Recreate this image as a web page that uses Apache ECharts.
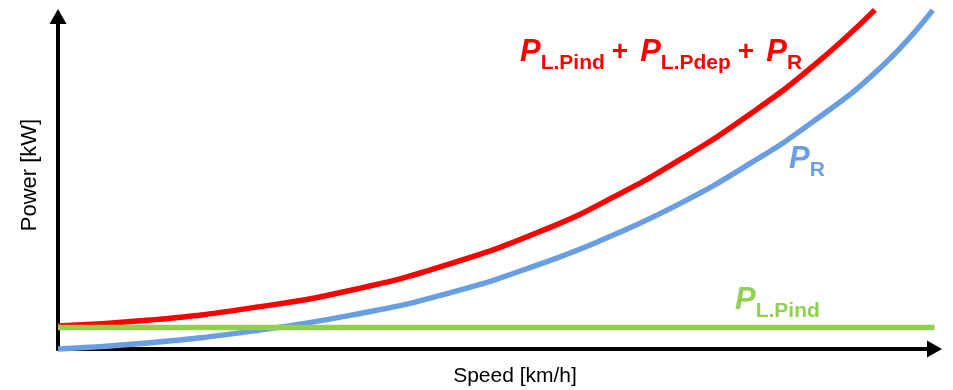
<!DOCTYPE html>
<html>
<head>
<meta charset="utf-8">
<script src="https://cdn.jsdelivr.net/npm/echarts@6/dist/echarts.min.js"></script>
<style>
  html, body { margin: 0; padding: 0; background: #fff; }
  #chart { width: 953px; height: 390px; }
</style>
</head>
<body>
<div id="chart"></div>
<script>
// speed (0-100 of the axis length) vs power (0-100 of the axis height)
const speed = [0, 10.5, 21.9, 33.3, 44.7, 55.8, 63.3, 71.0, 78.6, 86.1, 93.2];
const totalPower = [6.9, 8.7, 12.3, 17.6, 25.6, 36.2, 45.6, 57.0, 70.0, 85.0, 102.0];

const speedR = [0, 10.5, 21.9, 33.3, 44.7, 55.8, 63.3, 71.0, 78.6, 86.1, 93.8, 99.8];
const powerR = [0, 1.9, 5.3, 10.1, 16.9, 26.3, 34.2, 43.8, 55.2, 68.3, 84.5, 101.9];

const speedPind = [0, 100];
const powerPind = [6.5, 6.5];

const colors = {
    total: "#ff0000",
    r: "#6a9ee3",
    pind: "#92d050",
};

const zip = (xs, ys) => xs.map((x, i) => [x, ys[i]]);

const font = "Liberation Sans, Arial, sans-serif";

// rich text styles for P with subscript
function richFor(color) {
    return {
        p: {
            fontSize: 31,
            fontStyle: "italic",
            fontWeight: "bold",
            fontFamily: font,
            fill: color,
            lineHeight: 31,
            verticalAlign: "bottom",
            padding: [0, 0, 6, 0],
        },
        s: {
            fontSize: 21,
            fontWeight: "bold",
            fontFamily: font,
            fill: color,
            lineHeight: 21,
            verticalAlign: "bottom",
        },
        o: {
            fontSize: 28,
            fontWeight: "bold",
            fontFamily: font,
            fill: color,
            lineHeight: 28,
            verticalAlign: "bottom",
            padding: [0, 12, 8, 7],
        },
    };
}

const chart = echarts.init(document.getElementById("chart"));

const axisCommon = {
    type: "value",
    min: 0,
    max: 100,
    splitLine: { show: false },
    axisTick: { show: false },
    axisLabel: { show: false },
    axisLine: {
        show: true,
        symbol: ["none", "triangle"],
        symbolSize: [17, 15],
        lineStyle: { color: "#000", width: 4 },
    },
};

chart.setOption({
    animation: false,
    grid: { left: 58, right: 18.5, top: 16.5, bottom: 41 },
    xAxis: axisCommon,
    yAxis: axisCommon,
    series: [
        {
            name: "total",
            type: "line",
            data: zip(speed, totalPower),
            smooth: 0.5,
            showSymbol: false,
            clip: false,
            lineStyle: { color: colors.total, width: 5.5 },
        },
        {
            name: "PR",
            type: "line",
            data: zip(speedR, powerR),
            smooth: 0.5,
            showSymbol: false,
            clip: false,
            lineStyle: { color: colors.r, width: 5.5 },
        },
        {
            name: "PLPind",
            type: "line",
            data: zip(speedPind, powerPind),
            showSymbol: false,
            lineStyle: { color: colors.pind, width: 5.5 },
        },
    ],
    graphic: [
        {
            type: "text",
            x: 520,
            y: 43,
            style: {
                text: "{p|P}{s|L.Pind}{o|+}{p|P}{s|L.Pdep}{o|+}{p|P}{s|R}",
                rich: richFor(colors.total),
            },
        },
        {
            type: "text",
            x: 789,
            y: 150,
            style: {
                text: "{p|P}{s|R}",
                rich: richFor(colors.r),
            },
        },
        {
            type: "text",
            x: 735,
            y: 291,
            style: {
                text: "{p|P}{s|L.Pind}",
                rich: richFor(colors.pind),
            },
        },
        {
            type: "text",
            x: 515,
            y: 376,
            style: {
                text: "Speed [km/h]",
                fontSize: 21,
                fontFamily: font,
                fill: "#000",
                align: "center",
                verticalAlign: "middle",
            },
        },
        {
            type: "text",
            x: 30,
            y: 175,
            rotation: Math.PI / 2,
            style: {
                text: "Power [kW]",
                fontSize: 22,
                fontFamily: font,
                fill: "#000",
                align: "center",
                verticalAlign: "middle",
            },
        },
    ],
});
</script>
</body>
</html>
